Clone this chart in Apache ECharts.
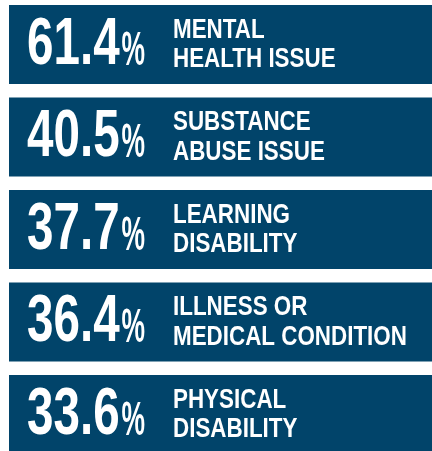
<!DOCTYPE html>
<html><head><meta charset="utf-8">
<script src="https://cdn.jsdelivr.net/npm/echarts@6/dist/echarts.min.js"></script>
<style>html,body{margin:0;padding:0;background:#fff}#c{width:432px;height:451px}</style>
</head><body><div id="c"></div>
<script>
const categories = ['MENTAL\nHEALTH ISSUE', 'SUBSTANCE\nABUSE ISSUE', 'LEARNING\nDISABILITY', 'ILLNESS OR\nMEDICAL CONDITION', 'PHYSICAL\nDISABILITY'];
const values = [61.4, 40.5, 37.7, 36.4, 33.6];
const positions = [0, 1, 2, 3, 4];

const BOX = '#01446a';
const FONT = '"Liberation Sans", Arial, sans-serif';
const numSize = 67, pctSize = 49, labSize = 28;
const numScale = 0.71, pctScale = 0.54, labScale = 0.80;
const mctx = document.createElement('canvas').getContext('2d');
function textW(t, size) { mctx.font = 'bold ' + size + 'px ' + FONT; return mctx.measureText(t).width; }

const yMin = -44.5 / 92.5;
const yMax = yMin + 451 / 92.5;

const chart = echarts.init(document.getElementById('c'), null, {renderer: 'canvas'});
chart.setOption({
  animation: false,
  grid: {left: 9, right: 0, top: 0, bottom: 0},
  xAxis: {type: 'value', min: 0, max: 100, show: false},
  yAxis: {type: 'value', min: yMin, max: yMax, inverse: true, show: false},
  series: [{
    type: 'custom',
    data: values.map((v, i) => [v, positions[i]]),
    encode: {x: 0, y: 1},
    clip: false,
    renderItem(params, api) {
      const cs = params.coordSys;
      const idx = params.dataIndex;
      const pos = api.value(1), v = api.value(0);
      const cy = api.coord([0, pos])[1];
      const unit = api.size([0, 1])[1];
      const h = unit * 79 / 92.5;
      const top = cy - h / 2;
      const x0 = cs.x;
      const numStr = v.toFixed(1);
      const nw = textW(numStr, numSize) * numScale;
      const nx = x0 + 18;
      const lines = categories[idx].split('\n');
      return {
        type: 'group',
        children: [
          {type: 'rect', shape: {x: x0, y: top, width: cs.width, height: h}, style: {fill: BOX}},
          {type: 'text', x: nx, y: top + 40.5, scaleX: numScale,
            style: {text: numStr, fill: '#fff', font: 'bold ' + numSize + 'px ' + FONT, verticalAlign: 'middle', align: 'left'}},
          {type: 'text', x: nx + nw + 2, y: top + 46, scaleX: pctScale,
            style: {text: '%', fill: '#fff', font: 'bold ' + pctSize + 'px ' + FONT, verticalAlign: 'middle', align: 'left'}},
          {type: 'text', x: x0 + 164, y: top + 25, scaleX: labScale,
            style: {text: lines[0], fill: '#fff', font: 'bold ' + labSize + 'px ' + FONT, verticalAlign: 'middle', align: 'left'}},
          {type: 'text', x: x0 + 164, y: top + 54.5, scaleX: labScale,
            style: {text: lines[1], fill: '#fff', font: 'bold ' + labSize + 'px ' + FONT, verticalAlign: 'middle', align: 'left'}}
        ]
      };
    }
  }]
});
</script></body></html>
